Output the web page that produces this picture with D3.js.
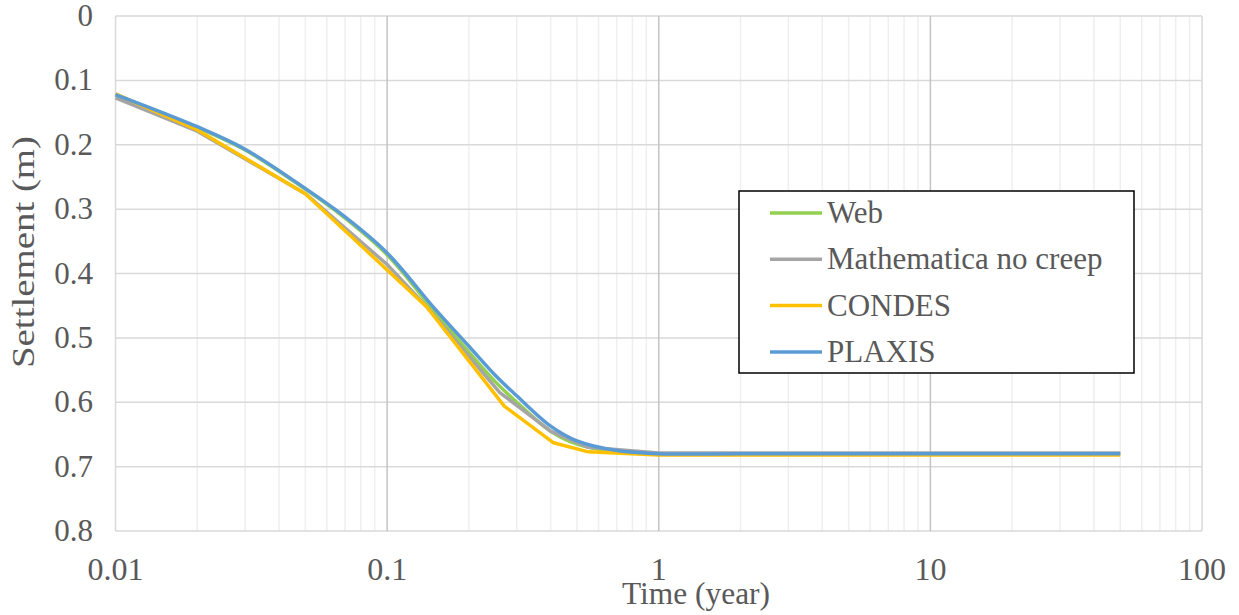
<!doctype html>
<html>
<head>
<script src="https://cdnjs.cloudflare.com/ajax/libs/d3/7.8.5/d3.min.js"></script>
<style>
  body { margin: 0; background: #fff; }
  text { font-family: "Liberation Serif", "Times New Roman", serif; fill: #595959; }
</style>
</head>
<body>
<svg id="chart" width="1239" height="615"></svg>
<script>
// smooth series (Web, PLAXIS) share one time list
var smoothTime = [0.01, 0.02, 0.03, 0.05, 0.07, 0.1, 0.15, 0.2, 0.25, 0.3, 0.4, 0.5, 0.7, 1, 2, 5, 10, 20, 50];
var plaxis     = [0.122, 0.172, 0.207, 0.268, 0.312, 0.368, 0.455, 0.513, 0.558, 0.59, 0.637, 0.66, 0.675, 0.68, 0.68, 0.68, 0.68, 0.68, 0.68];
var web        = [0.123, 0.173, 0.208, 0.269, 0.314, 0.371, 0.46, 0.522, 0.568, 0.6, 0.645, 0.665, 0.677, 0.68, 0.68, 0.68, 0.68, 0.68, 0.68];

// piecewise series
var mathTime   = [0.01, 0.02, 0.05, 0.1, 0.14, 0.26, 0.4, 0.55, 1, 2, 5, 10, 20, 50];
var mathNoCreep= [0.127, 0.179, 0.276, 0.386, 0.452, 0.585, 0.645, 0.67, 0.679, 0.679, 0.679, 0.679, 0.679, 0.679];

var condesTime = [0.01, 0.02, 0.05, 0.14, 0.27, 0.41, 0.55, 1, 2, 5, 10, 20, 50];
var condes     = [0.121, 0.177, 0.276, 0.452, 0.606, 0.663, 0.677, 0.682, 0.682, 0.682, 0.682, 0.682, 0.682];

var seriesNames = ["Web", "Mathematica no creep", "CONDES", "PLAXIS"];
var seriesColors = ["#92d050", "#a5a5a5", "#ffc000", "#5b9bd5"];

var xTicks = [0.01, 0.1, 1, 10, 100];
var yTicks = [0, 0.1, 0.2, 0.3, 0.4, 0.5, 0.6, 0.7, 0.8];

var plotL = 115.5, plotR = 1202, plotT = 16, plotB = 531;
var svg = d3.select("#chart");

var x = d3.scaleLog().domain([0.01, 100]).range([plotL, plotR]);
var y = d3.scaleLinear().domain([0, 0.8]).range([plotT, plotB]);

// minor vertical grid
var minors = [];
[0.01, 0.1, 1, 10].forEach(function(d) {
  for (var k = 2; k <= 9; k++) minors.push(d * k);
});
svg.append("g").selectAll("line").data(minors).enter().append("line")
  .attr("x1", d => x(d)).attr("x2", d => x(d))
  .attr("y1", plotT).attr("y2", plotB)
  .attr("stroke", "#efefef").attr("stroke-width", 1.5);

// horizontal grid
svg.append("g").selectAll("line").data(yTicks).enter().append("line")
  .attr("x1", plotL).attr("x2", plotR)
  .attr("y1", d => y(d)).attr("y2", d => y(d))
  .attr("stroke", "#d9d9d9").attr("stroke-width", 1.5);

// major vertical grid
svg.append("g").selectAll("line").data(xTicks).enter().append("line")
  .attr("x1", d => x(d)).attr("x2", d => x(d))
  .attr("y1", plotT).attr("y2", plotB)
  .attr("stroke", d => (d == 0.01 || d == 100) ? "#d9d9d9" : "#c4c4c4")
  .attr("stroke-width", 1.5);

// tick labels
svg.append("g").selectAll("text").data(yTicks).enter().append("text")
  .attr("x", 93).attr("y", d => y(d) + 10)
  .attr("text-anchor", "end")
  .style("font-size", "31px")
  .text(d => d);

svg.append("g").selectAll("text").data(xTicks).enter().append("text")
  .attr("x", d => x(d)).attr("y", 580)
  .attr("text-anchor", "middle")
  .style("font-size", "32px")
  .text(d => d);

// axis titles
svg.append("text")
  .attr("x", 696).attr("y", 604)
  .attr("text-anchor", "middle")
  .attr("textLength", 148).attr("lengthAdjust", "spacingAndGlyphs")
  .style("font-size", "31px")
  .text("Time (year)");

svg.append("text")
  .attr("transform", "translate(34,252) rotate(-90)")
  .attr("text-anchor", "middle")
  .attr("textLength", 232).attr("lengthAdjust", "spacingAndGlyphs")
  .style("font-size", "31px")
  .text("Settlement (m)");

// lines
var lineSmooth = d3.line().x(d => x(d[0])).y(d => y(d[1])).curve(d3.curveCatmullRom.alpha(0.5));
var lineStraight = d3.line().x(d => x(d[0])).y(d => y(d[1]));

var data = [
  {name: seriesNames[0], pts: d3.zip(smoothTime, web), gen: lineSmooth},
  {name: seriesNames[1], pts: d3.zip(mathTime, mathNoCreep), gen: lineStraight},
  {name: seriesNames[2], pts: d3.zip(condesTime, condes), gen: lineStraight},
  {name: seriesNames[3], pts: d3.zip(smoothTime, plaxis), gen: lineSmooth}
];

svg.append("g").selectAll("path").data(data).enter().append("path")
  .attr("d", d => d.gen(d.pts))
  .attr("fill", "none")
  .attr("stroke", (d, i) => seriesColors[i])
  .attr("stroke-width", 3.5)
  .attr("stroke-linejoin", "round");

// legend
var lg = svg.append("g");
lg.append("rect")
  .attr("x", 739).attr("y", 191).attr("width", 395).attr("height", 182)
  .attr("fill", "#fff").attr("stroke", "#000").attr("stroke-width", 1.5);

var item = lg.selectAll("g.item").data(seriesNames).enter().append("g")
  .attr("class", "item")
  .attr("transform", (d, i) => "translate(0," + (213 + i * 46.3) + ")");
item.append("line")
  .attr("x1", 770).attr("x2", 822).attr("y1", 0).attr("y2", 0)
  .attr("stroke", (d, i) => seriesColors[i]).attr("stroke-width", 3.5);
item.append("text")
  .attr("x", 827).attr("y", 10)
  .style("font-size", "31px")
  .text(d => d);
</script>
</body>
</html>
